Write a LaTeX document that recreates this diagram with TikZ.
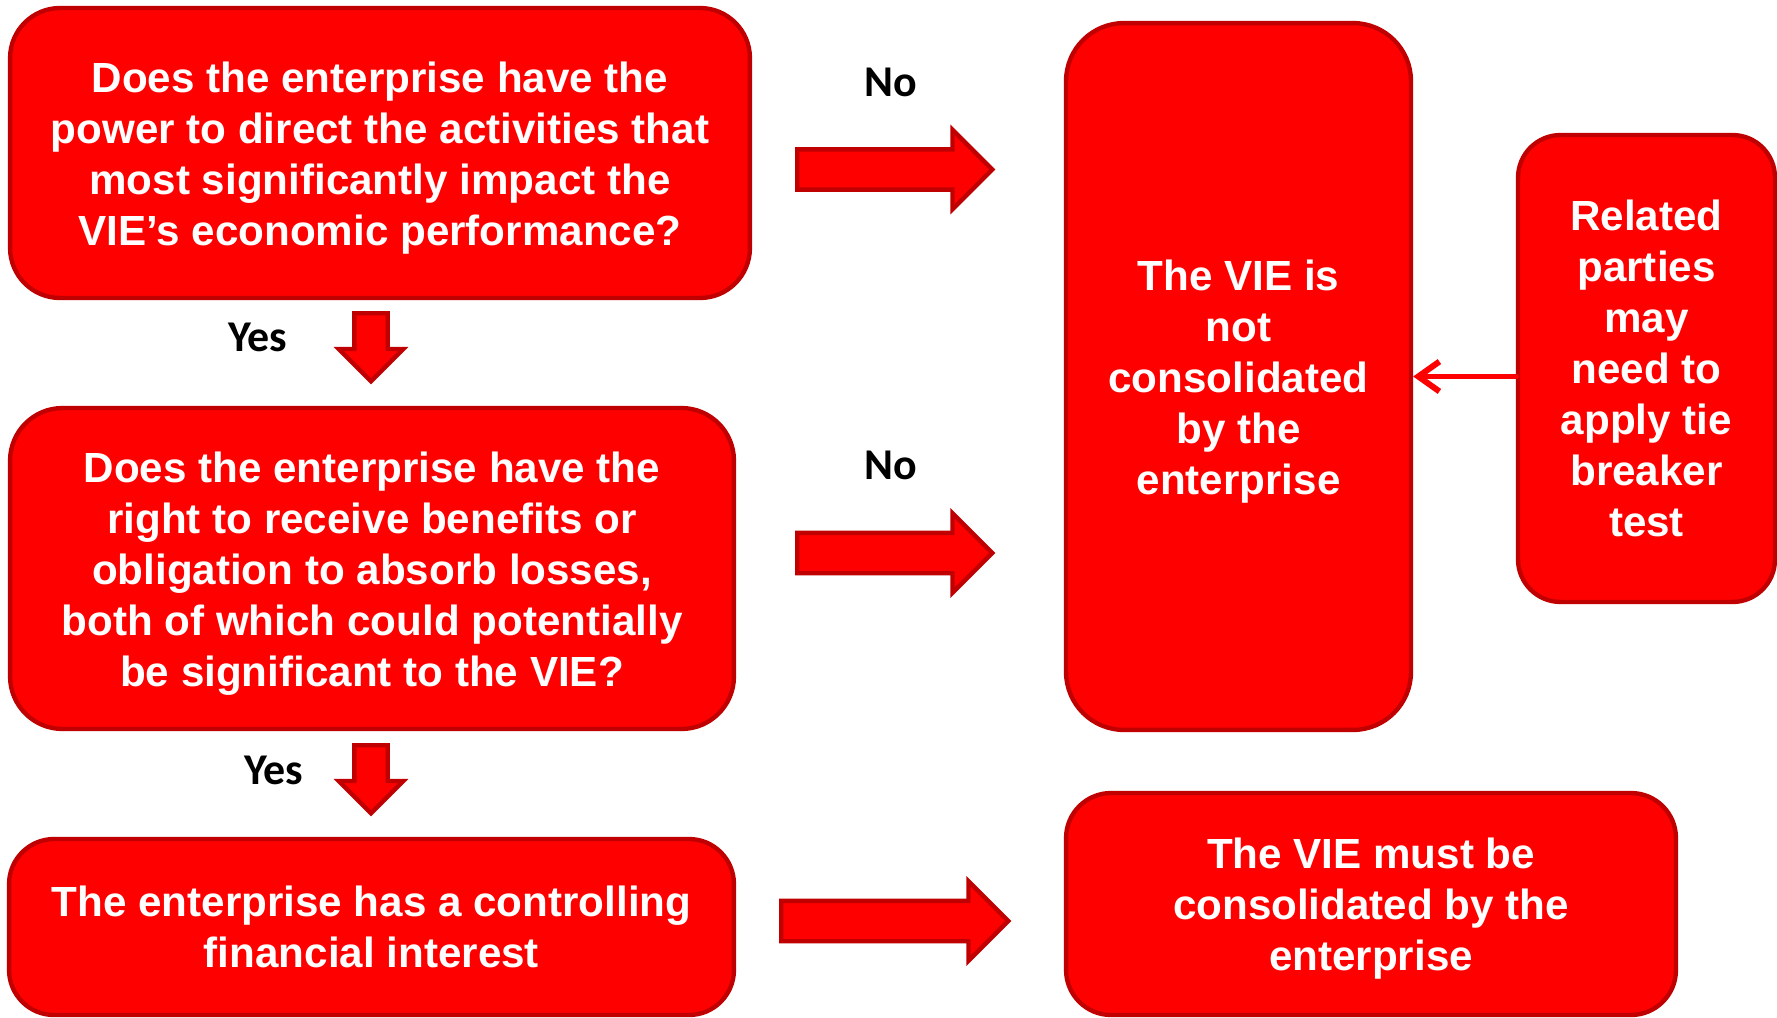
\documentclass[tikz,border=0pt]{standalone}
\usepackage{fontspec}
\setmainfont{Liberation Sans}
\newfontfamily\lblfont{Carlito}
\usetikzlibrary{shapes,arrows.meta,positioning}
\definecolor{boxred}{HTML}{FF0000}
\definecolor{edgered}{HTML}{C00000}
\newcommand{\txtpad}{\rule{0pt}{23pt}}
\tikzstyle{rbox} = [rectangle, draw=edgered, fill=boxred, line width=2.5pt,
    text=white, align=center, inner sep=0pt,
    font=\bfseries\fontsize{24}{29}\selectfont]
\tikzstyle{barrow} = [single arrow, draw=edgered, fill=boxred, line width=2.5pt,
    inner xsep=0pt, inner ysep=0.36cm, single arrow head extend=0.39cm,
    anchor=tail]
\tikzstyle{darrow} = [barrow, inner ysep=0.29cm, single arrow head extend=0.31cm,
    minimum height=1.36cm, rotate=-90]
\tikzstyle{lbl} = [font=\lblfont\bfseries\fontsize{25}{30}\selectfont]

\begin{document}
\begin{tikzpicture}[x=0.02cm,y=-0.02cm]
  \useasboundingbox (0,0) rectangle (1777,1017);
  \clip (0,0) rectangle (1777,1017);

  \node[rbox, minimum width=14.8cm, minimum height=5.8cm, rounded corners=1cm]
    (q1) at (380,153) {\txtpad Does the enterprise have the\\power to direct the activities that\\most significantly impact the\\VIE’s economic performance?};
  \node[rbox, minimum width=14.48cm, minimum height=6.42cm, rounded corners=1.05cm]
    (q2) at (372,568.5) {\txtpad Does the enterprise have the\\right to receive benefits or\\obligation to absorb losses,\\both of which could potentially\\be significant to the VIE?};
  \node[rbox, minimum width=14.5cm, minimum height=3.52cm, rounded corners=0.9cm]
    (q3) at (371.5,927) {The enterprise has a controlling\\financial interest};
  \node[rbox, minimum width=6.9cm, minimum height=14.14cm, rounded corners=1.16cm]
    (notcons) at (1238.5,376.5) {\txtpad The VIE is\\not\\consolidated\\by the\\enterprise};
  \node[rbox, minimum width=5.14cm, minimum height=9.34cm, rounded corners=0.85cm]
    (related) at (1646.5,368.5) {Related\\parties\\may\\need to\\apply tie\\breaker\\test};
  \node[rbox, minimum width=12.2cm, minimum height=4.44cm, rounded corners=0.9cm]
    (mustcons) at (1371,904) {\txtpad The VIE must be\\consolidated by the\\enterprise};

  \node[barrow, minimum height=3.9cm] (a1) at (795,169.5) {};
  \node[barrow, minimum height=3.9cm] (a2) at (795,553) {};
  \node[barrow, minimum height=4.54cm] (a3) at (779,921) {};
  \node[darrow] (d1) at (371,311) {};
  \node[darrow] (d2) at (371,743) {};

  \node[lbl] (no1) at (891,82) {No};
  \node[lbl] (no2) at (891,465) {No};
  \node[lbl] (yes1) at (258,337) {Yes};
  \node[lbl] (yes2) at (274,770) {Yes};

  \draw[-{Straight Barb[length=12pt,width=17pt]}, draw=boxred, line width=3.4pt,
        line cap=round, line join=round]
    (related.west |- notcons.east) -- (notcons.east);
\end{tikzpicture}
\end{document}
